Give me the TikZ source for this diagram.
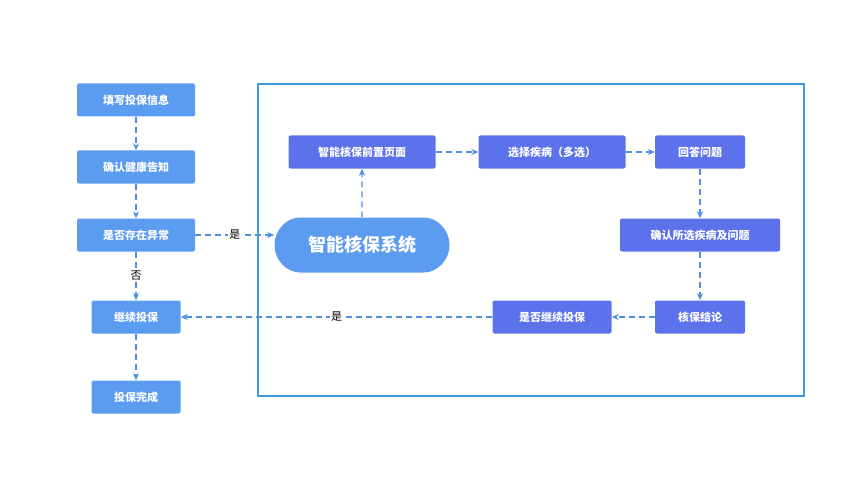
\documentclass[tikz,border=0pt]{standalone}
\usepackage{fontspec}
\setmainfont{Noto Sans CJK SC}
\usetikzlibrary{arrows.meta,shapes.misc}
\definecolor{lb}{HTML}{5B9BF0}
\definecolor{ib}{HTML}{5C72EA}
\definecolor{ln}{HTML}{4F8FE6}
\definecolor{fr}{HTML}{3C9BE0}
\begin{document}
\begin{tikzpicture}[x=1pt,y=-1pt,
 box/.style={draw=none,fill=lb,text=white,minimum height=33pt,rounded corners=2pt,font=\fontsize{11}{13}\selectfont\bfseries,inner sep=0pt},
 rbox/.style={box,fill=ib},
 ar/.style={draw=ln,line width=1.2pt,dash pattern=on 6pt off 4pt,-{Stealth[length=7pt,width=6pt]}},
 lab/.style={fill=white,text=black,font=\fontsize{11}{13}\selectfont,inner sep=1pt}]
\useasboundingbox (0,0) rectangle (862,500);
\draw[fr,line width=1.5pt] (258,84) rectangle (804,396);
\node[box,minimum width=118pt] (a) at (136,100) {填写投保信息};
\node[box,minimum width=118pt] (b) at (136,167) {确认健康告知};
\node[box,minimum width=118pt] (c) at (136,235) {是否存在异常};
\node[box,minimum width=89pt] (d) at (136,317) {继续投保};
\node[box,minimum width=89pt] (e) at (136,397) {投保完成};
\node[rbox,minimum width=147pt] (p) at (362,152) {智能核保前置页面};
\node[rbox,minimum width=147pt] (q) at (552,152) {选择疾病（多选）};
\node[rbox,minimum width=90pt] (r) at (700,152) {回答问题};
\node[rbox,minimum width=160pt] (s) at (700,235) {确认所选疾病及问题};
\node[rbox,minimum width=90pt] (t) at (700,317) {核保结论};
\node[rbox,minimum width=119pt] (u) at (552,317) {是否继续投保};
\node[box,rounded rectangle,minimum width=175pt,minimum height=55pt,font=\fontsize{18}{20}\selectfont\bfseries] (sys) at (362,245) {智能核保系统};
\draw[ar] (a) -- (b);
\draw[ar] (b) -- (c);
\draw[ar] (c) -- node[lab]{否} (d);
\draw[ar] (d) -- (e);
\draw[ar] (c.east) -- node[lab]{是} (sys.west|-c.east);
\draw[ar] (sys) -- (p);
\draw[ar] (p) -- (q);
\draw[ar] (q) -- (r);
\draw[ar] (r) -- (s);
\draw[ar] (s) -- (t);
\draw[ar] (t) -- (u);
\draw[ar] (u) -- node[lab,pos=0.5]{是} (d);
\end{tikzpicture}
\end{document}
